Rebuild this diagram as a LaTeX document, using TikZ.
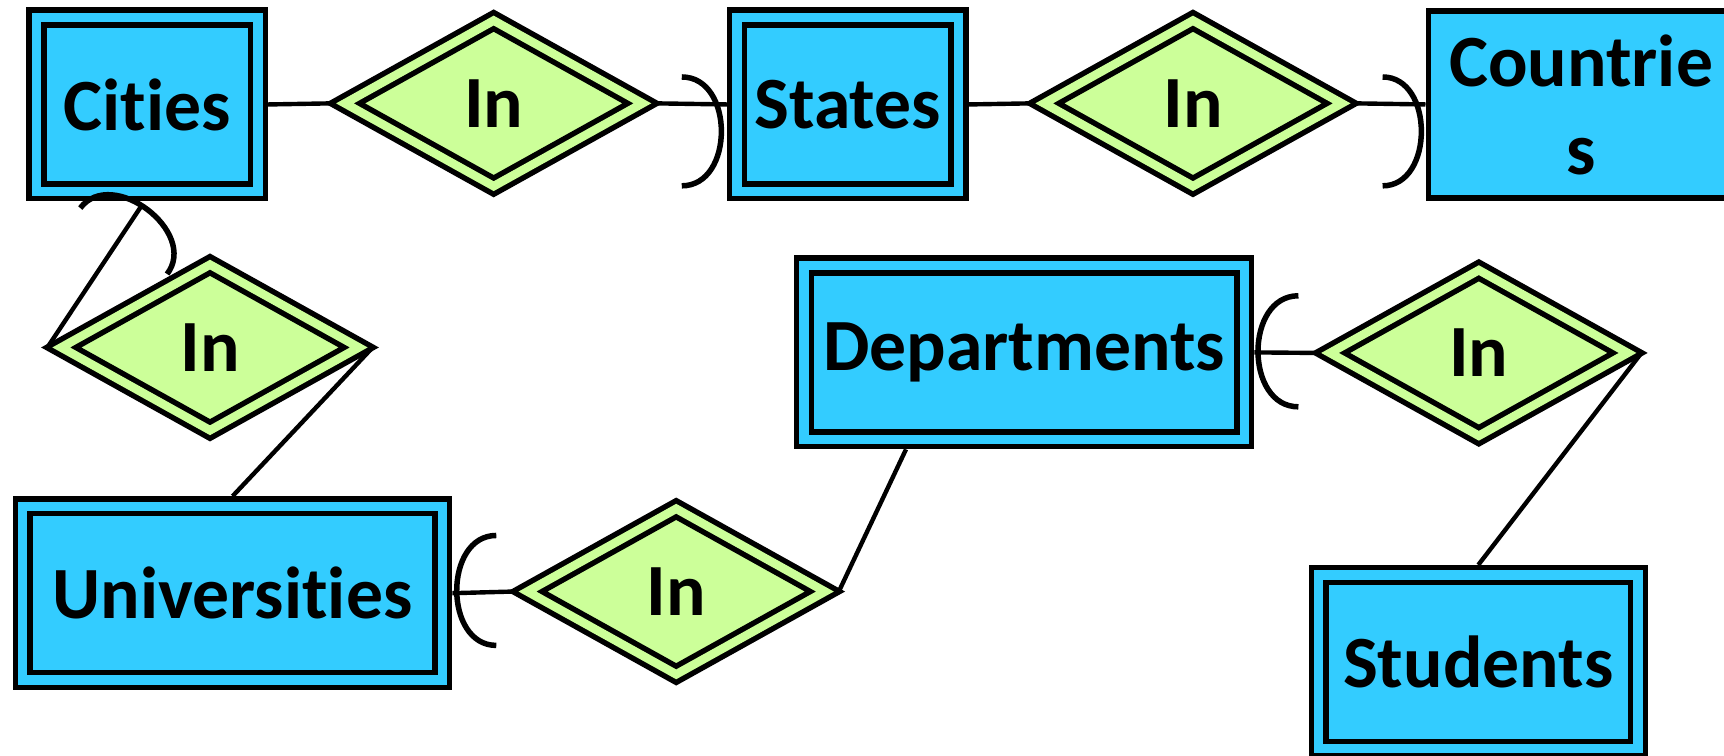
\documentclass[tikz,border=0pt]{standalone}
\usepackage{fontspec}
\setmainfont{Carlito}[Ligatures=NoCommon]
\usetikzlibrary{shapes.geometric,calc}

\definecolor{entblue}{HTML}{33CCFF}
\definecolor{relgreen}{HTML}{CCFF99}
\newcommand\erfont{\fontsize{33.5pt}{40pt}\selectfont\bfseries}

\tikzset{
  weakent/.style={rectangle, draw=black, line width=2.5pt, double=entblue,
    double distance=4.2pt, fill=entblue, outer sep=4.6pt, inner sep=0pt,
    minimum height=79pt, font=\erfont},
  plainent/.style={rectangle, draw=black, line width=2.5pt, fill=entblue,
    inner sep=0pt, align=center, font=\erfont},
  weakrel/.style={diamond, draw=black, line width=2.5pt, double=relgreen,
    double distance=3.9pt, fill=relgreen, outer sep=4.45pt, inner sep=0pt,
    minimum width=139pt, minimum height=79pt, font=\erfont},
  link/.style={line width=2pt},
  roundmark/.style={line width=2.5pt},
}

\begin{document}
\begin{tikzpicture}[x=0.5pt, y=-0.5pt]
  \useasboundingbox (0,0) rectangle (1568,687);
  \clip (0,0) rectangle (1568,687);

  % entity sets
  \node[weakent, minimum width=100.7pt] (cities) at (134,95) {Cities};
  \node[weakent, minimum width=100.7pt] (states) at (771,95) {States};
  \node[plainent, minimum width=139pt, minimum height=85pt] (countries) at (1438,95) {Countrie\\s};
  \node[weakent, minimum width=190.7pt] (univ) at (211.5,539.5) {Universities};
  \node[weakent, minimum width=200.2pt] (dept) at (931.5,320.5) {Departments};
  \node[weakent, minimum width=145.2pt] (students) at (1344.5,602) {Students};

  % relationship sets
  \node[weakrel] (r1) at (449,94) {In};
  \node[weakrel] (r2) at (1085,94) {In};
  \node[weakrel] (r3) at (191,316) {In};
  \node[weakrel] (r4) at (615,538) {In};
  \node[weakrel] (r5) at (1345,321) {In};

  % connectors
  \draw[link] (cities.east) -- (r1.west);
  \draw[link] (r1.east) -- (states.west);
  \draw[link] (states.east) -- (r2.west);
  \draw[link] (r2.east) -- (countries.west);
  \draw[link] (r3.west) -- ($(cities.south)+(-4,2)$);
  \draw[link] (univ.north) -- (r3.east);
  \draw[link] (univ.east) -- (r4.west);
  \draw[link] (r4.east) -- ($(dept.south)+(-107.5,0)$);
  \draw[link] (dept.east) -- (r5.west);
  \draw[link] (r5.east) -- (students.north);

  % participation arcs at the entity ends
  \draw[roundmark] ($(states.west)+(-41,-25)$)
    .. controls +(48,0) and +(48,0) .. ($(states.west)+(-41,74)$);
  \draw[roundmark] ($(countries.west)+(-39,-25)$)
    .. controls +(47,0) and +(47,0) .. ($(countries.west)+(-39,74)$);
  \draw[roundmark] ($(univ.east)+(40,-52.5)$)
    .. controls +(-48,0) and +(-48,0) .. ($(univ.east)+(40,47.5)$);
  \draw[roundmark] ($(dept.east)+(40,-51.5)$)
    .. controls +(-49,0) and +(-49,0) .. ($(dept.east)+(40,49.5)$);
  \draw[roundmark] ($(cities.south)+(-61,6)$)
    .. controls +(29,-38) and +(29,-38) .. ($(cities.south)+(18,66)$);
\end{tikzpicture}
\end{document}
